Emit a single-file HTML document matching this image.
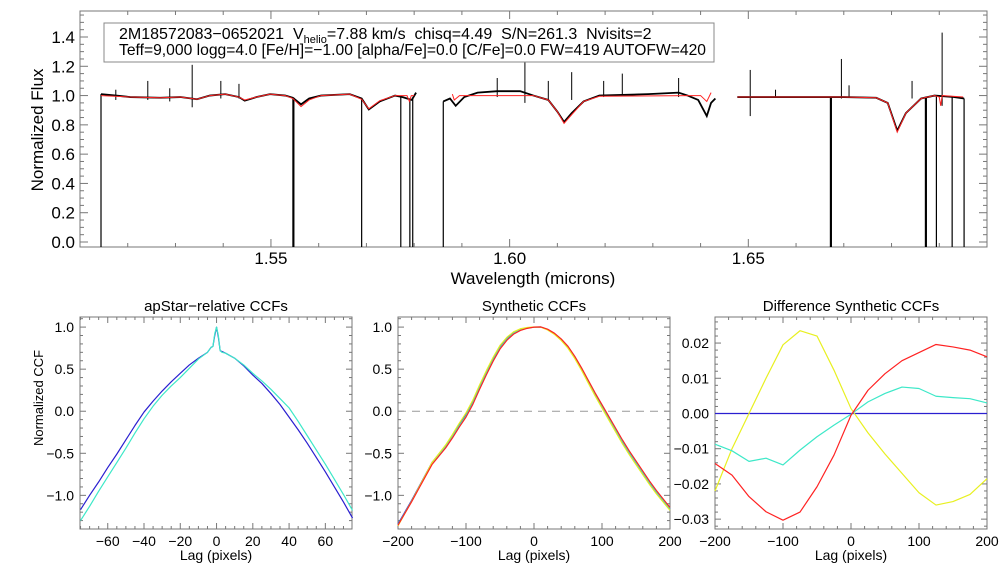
<!DOCTYPE html>
<html><head><meta charset="utf-8"><style>
html,body{margin:0;padding:0;background:#fff;}
svg{display:block;font-family:"Liberation Sans",sans-serif;}
</style></head><body>
<svg id="fig" width="1008" height="576" viewBox="0 0 1008 576" xmlns="http://www.w3.org/2000/svg">
<rect width="1008" height="576" fill="#fff"/>
</svg>
<script>
// ---------- Top panel data ----------
const specBlack1 = [[1.5144,1.01],[1.5175,1.0],[1.5205,0.99],[1.5268,0.985],[1.5310,0.99],[1.5345,0.975],[1.5372,1.0],[1.5404,1.01],[1.5433,0.99],[1.5445,0.965],[1.5470,0.99],[1.5498,1.01],[1.5530,1.0],[1.5546,0.985],[1.5563,0.94],[1.5580,0.98],[1.5605,1.0],[1.5665,1.01],[1.5690,0.98],[1.5705,0.905],[1.5728,0.96],[1.5760,1.0],[1.5775,0.99],[1.5795,0.97],[1.5804,1.02]];
const specRed1 = [[1.5144,1.0],[1.5205,0.99],[1.5268,0.985],[1.5310,0.99],[1.5345,0.975],[1.5372,1.0],[1.5404,1.01],[1.5433,0.99],[1.5445,0.97],[1.5470,0.99],[1.5498,1.01],[1.5530,1.0],[1.5546,0.98],[1.5563,0.925],[1.5580,0.97],[1.5605,1.0],[1.5665,1.01],[1.5690,0.975],[1.5705,0.91],[1.5728,0.965],[1.5760,1.0],[1.5785,1.0],[1.5790,0.96],[1.5794,1.0],[1.5800,1.0]];
const specBlack2 = [[1.5861,0.96],[1.5875,0.98],[1.5887,0.93],[1.5905,0.99],[1.5933,1.02],[1.5974,1.03],[1.6022,1.03],[1.6050,1.0],[1.6081,0.97],[1.6100,0.89],[1.6114,0.82],[1.6130,0.88],[1.6155,0.96],[1.6188,1.0],[1.6290,1.01],[1.6354,1.02],[1.6373,1.0],[1.6395,0.97],[1.6413,0.86],[1.6422,0.95],[1.6431,0.98]];
const specRed2 = [[1.5880,1.01],[1.5884,0.97],[1.5895,1.0],[1.6050,1.0],[1.6081,0.97],[1.6100,0.89],[1.6114,0.81],[1.6130,0.87],[1.6155,0.96],[1.6188,0.995],[1.6380,1.0],[1.6400,1.0],[1.6413,0.96],[1.6422,1.02]];
const specBlack3 = [[1.6477,0.99],[1.6600,0.99],[1.6700,0.99],[1.6768,0.985],[1.6792,0.95],[1.6812,0.76],[1.6830,0.88],[1.6862,0.98],[1.6890,1.0],[1.6930,0.99],[1.6952,0.98]];
const specRed3 = [[1.6477,0.99],[1.6600,0.99],[1.6700,0.99],[1.6768,0.985],[1.6792,0.95],[1.6812,0.75],[1.6830,0.88],[1.6862,0.98],[1.6890,1.0],[1.6900,0.99],[1.6903,0.93],[1.6906,1.0],[1.6950,0.99]];
const spikeWave = [1.5175,1.5242,1.5288,1.5335,1.5395,1.5433,1.5974,1.6032,1.6081,1.6130,1.6197,1.6236,1.6354,1.6504,1.6557,1.6695,1.6711,1.6843,1.6906];
const spikeTop  = [1.04,1.10,1.05,1.21,1.10,1.08,1.12,1.25,1.10,1.16,1.10,1.15,1.12,1.175,1.04,1.25,1.07,1.10,1.43];
const spikeBot  = [0.97,0.97,0.96,0.92,0.98,0.98,0.99,0.95,0.97,0.97,0.99,1.0,0.99,0.86,0.99,0.98,0.99,0.98,0.93];
const dropWave = [1.5144,1.5546,1.5548,1.5690,1.5772,1.5791,1.5797,1.5861,1.6672,1.6674,1.6871,1.6873,1.6894,1.6927,1.6952];
const dropFrom = [1.01,0.985,0.985,0.98,0.99,0.97,0.98,0.96,0.99,0.99,0.99,0.99,1.0,0.99,0.98];
const topYTicks = ["0.0","0.2","0.4","0.6","0.8","1.0","1.2","1.4"];
const topXTicks = ["1.55","1.60","1.65"];

// ---------- CCF panels data ----------
const apLags = [-75,-70,-65,-60,-55,-50,-45,-40,-35,-30,-25,-20,-15,-10,-5,-3,-2,-1,0,1,2,3,5,10,15,20,25,30,35,40,45,50,55,60,65,70,75];
const apBlue = [-1.17,-1.00,-0.84,-0.67,-0.51,-0.34,-0.17,-0.01,0.12,0.24,0.35,0.45,0.55,0.63,0.70,0.76,0.77,0.90,1.0,0.88,0.72,0.71,0.69,0.63,0.54,0.43,0.33,0.21,0.08,-0.07,-0.22,-0.38,-0.55,-0.72,-0.90,-1.08,-1.27];
const apCyan = [-1.30,-1.13,-0.95,-0.78,-0.61,-0.44,-0.26,-0.09,0.06,0.19,0.30,0.40,0.51,0.62,0.70,0.76,0.77,0.92,1.0,0.90,0.72,0.70,0.69,0.63,0.55,0.45,0.36,0.26,0.15,0.04,-0.12,-0.29,-0.46,-0.63,-0.81,-0.99,-1.18];
const synLags = [-200,-190,-180,-170,-160,-150,-140,-130,-120,-110,-100,-90,-80,-70,-60,-50,-40,-30,-20,-10,0,10,20,30,40,50,60,70,80,90,100,110,120,130,140,150,160,170,180,190,200];
const synBase = [-1.34,-1.20,-1.06,-0.91,-0.76,-0.61,-0.51,-0.41,-0.29,-0.16,-0.04,0.11,0.29,0.46,0.62,0.76,0.86,0.93,0.97,0.99,1.0,1.0,0.97,0.92,0.85,0.76,0.64,0.50,0.35,0.20,0.06,-0.08,-0.22,-0.36,-0.49,-0.61,-0.73,-0.85,-0.96,-1.06,-1.16];
const diffLags = [-200,-175,-150,-125,-100,-75,-50,-25,0,25,50,75,100,125,150,175,200];
const diffYellow = [-0.022,-0.010,0.0,0.010,0.0195,0.0235,0.022,0.0123,0.0014,-0.0055,-0.0115,-0.017,-0.0225,-0.026,-0.025,-0.023,-0.0185];
const diffRed = [-0.0142,-0.0175,-0.0236,-0.0279,-0.0303,-0.028,-0.0208,-0.0118,-0.0005,0.0066,0.0113,0.015,0.0173,0.0196,0.0189,0.018,0.0161];
const diffCyan = [-0.0087,-0.0106,-0.0136,-0.0127,-0.0146,-0.0104,-0.0066,-0.0033,-0.0002,0.0033,0.0057,0.0075,0.0071,0.0049,0.0045,0.0042,0.003];
const diffBlue = [0,0,0,0,0,0,0,0,0,0,0,0,0,0,0,0,0];
const apXTicks = [-60,-40,-20,0,20,40,60];
const ccfYTicks = [-1.0,-0.5,0.0,0.5,1.0];
const synXTicks = [-200,-100,0,100,200];
const diffYTicks = [-0.03,-0.02,-0.01,0.0,0.01,0.02];

const NS = "http://www.w3.org/2000/svg";
const svg = document.getElementById('fig');
function el(tag, attrs, parent){
  const e = document.createElementNS(NS, tag);
  for (const k in attrs) e.setAttribute(k, attrs[k]);
  (parent||svg).appendChild(e);
  return e;
}
function lin(d0,d1,r0,r1){ return v => r0 + (v-d0)*(r1-r0)/(d1-d0); }
function fmtMinus(s){ return String(s).replace('-', '\u2212'); }
function interp(xa, ya, x){
  for (let i=0;i<xa.length-1;i++){
    if (x>=xa[i] && x<=xa[i+1]) return ya[i]+(ya[i+1]-ya[i])*(x-xa[i])/(xa[i+1]-xa[i]);
  }
  return x<xa[0]?ya[0]:ya[ya.length-1];
}

function axesFrame(g, L, T, R, B, xs, ys, xmin, xmax, xmaj, xmin_step, ymin, ymax, ymaj, ymin_step, majLen, minLen){
  const frame = el('rect',{x:L,y:T,width:R-L,height:B-T,fill:'none',stroke:'#777','stroke-width':1},g);
  
  
  const eps=1e-9;
  for (let v=Math.ceil((xmin-eps)/xmin_step)*xmin_step; v<=xmax+eps; v+=xmin_step){
    const isMaj = Math.abs(v/xmaj - Math.round(v/xmaj))<1e-6;
    const len = isMaj?majLen:minLen, x=xs(v);
    const t1 = el('line',{x1:x,y1:B,x2:x,y2:B-len,stroke:'#777','stroke-width':1},g);
    
    
    const t2 = el('line',{x1:x,y1:T,x2:x,y2:T+len,stroke:'#777','stroke-width':1},g);
    
    
  }
  for (let v=Math.ceil((ymin-eps)/ymin_step)*ymin_step; v<=ymax+eps; v+=ymin_step){
    const isMaj = Math.abs(v/ymaj - Math.round(v/ymaj))<1e-6;
    const len = isMaj?majLen:minLen, y=ys(v);
    const t1 = el('line',{x1:L,y1:y,x2:L+len,y2:y,stroke:'#777','stroke-width':1},g);
    
    
    const t2 = el('line',{x1:R,y1:y,x2:R-len,y2:y,stroke:'#777','stroke-width':1},g);
    
    
  }
}
function pathFrom(xsArr, ysArr, xs, ys){
  return xsArr.map((v,i)=>(i?'L':'M')+xs(v).toFixed(2)+','+ys(ysArr[i]).toFixed(2)).join('');
}
function text(g, x, y, str, size, anchor, name, extra){
  const t = el('text',Object.assign({x:x,y:y,'font-size':size,'text-anchor':anchor||'middle',fill:'#000'},extra||{}),g);
  t.textContent = str;
  
  
  return t;
}

// ---------- Top panel ----------
(function(){
  const L=80,T=11,R=987,B=247;
  const xs = lin(1.51,1.70,L,R);
  const ys = lin(0,1.4,242,37);
  const g = el('g',{});
  
  
  axesFrame(g,L,T,R,B,xs,ys,1.51,1.70,0.05,0.01,-0.03,1.58,0.2,0.05,8,4);
  topYTicks.forEach(s=>text(g,75,ys(parseFloat(s))+6,s,17,'end','y-tick-label'));
  topXTicks.forEach(s=>text(g,xs(parseFloat(s)),264,s,17,'middle','x-tick-label'));
  text(g,533,284,'Wavelength (microns)',17,'middle','x-axis-title');
  text(g,0,0,'Normalized Flux',17,'middle','y-axis-title',{transform:'translate(43,130) rotate(-90)'});
  dropWave.forEach((w,i)=>{
    const ln = el('line',{x1:xs(w),y1:ys(dropFrom[i]),x2:xs(w),y2:B,stroke:'#000','stroke-width':1.2},g);
    
    
  });
  [specBlack1,specBlack2,specBlack3].forEach(arr=>{
    const p = el('path',{d:pathFrom(arr.map(a=>a[0]),arr.map(a=>a[1]),xs,ys),fill:'none',stroke:'#000','stroke-width':1.8},g);
    
    
  });
  spikeWave.forEach((w,i)=>{
    const ln = el('line',{x1:xs(w),y1:ys(spikeTop[i]),x2:xs(w),y2:ys(spikeBot[i]),stroke:'#000','stroke-width':1},g);
    
    
  });
  [specRed1,specRed2,specRed3].forEach(arr=>{
    const p = el('path',{d:pathFrom(arr.map(a=>a[0]),arr.map(a=>a[1]),xs,ys),fill:'none',stroke:'#f22','stroke-width':1},g);
    
    
  });
  const box = el('rect',{x:104,y:23,width:610,height:39,fill:'#fff',stroke:'#888','stroke-width':1},g);
  
  
  const t1 = el('text',{x:119,y:39,'font-size':16,fill:'#000'},g);
  
  
  t1.style.whiteSpace='pre';
  t1.innerHTML = '2M18572083\u22120652021  V<tspan font-size="11" dy="4">helio</tspan><tspan dy="-4">=7.88 km/s  chisq=4.49  S/N=261.3  Nvisits=2</tspan>';
  text(g,119,55,'Teff=9,000 logg=4.0 [Fe/H]=\u22121.00 [alpha/Fe]=0.0 [C/Fe]=0.0 FW=419 AUTOFW=420',16,'start','legend-line-2',{textLength:587,lengthAdjust:'spacingAndGlyphs'});
})();

// ---------- Bottom panels ----------
function ccfPanel(name, L, title, xmin, xmax, xmaj, xminStep, ymin, ymax, ymaj, yminStep, xticks, yticks, yfmt){
  const T=317,B=529,R=L+272;
  const xs = lin(xmin,xmax,L,R);
  const ys = lin(ymin,ymax,B,T);
  const g = el('g',{});
  
  
  axesFrame(g,L,T,R,B,xs,ys,xmin,xmax,xmaj,xminStep,ymin,ymax,ymaj,yminStep,6,3);
  xticks.forEach(v=>text(g,xs(v),546,fmtMinus(v),14,'middle','x-tick-label'));
  yticks.forEach(v=>text(g,L-6,ys(v)+5,fmtMinus(yfmt(v)),14,'end','y-tick-label'));
  text(g,(L+R)/2,311,title,15,'middle','panel-title');
  text(g,(L+R)/2,560,'Lag (pixels)',14,'middle','x-axis-title');
  return {g,xs,ys};
}
function series(p, xArr, yArr, color, name){
  const path = el('path',{d:pathFrom(xArr,yArr,p.xs,p.ys),fill:'none',stroke:color,'stroke-width':1.2,'stroke-linejoin':'round'},p.g);
  
  
}
const p1 = ccfPanel('apstar-ccf-panel',80,'apStar\u2212relative CCFs',-75.3,74.7,20,5,-1.4,1.12,0.5,0.1,apXTicks,ccfYTicks,v=>v.toFixed(1));
text(p1.g,0,0,'Normalized CCF',13,'middle','y-axis-title',{transform:'translate(43,398) rotate(-90)'});
series(p1,apLags,apBlue,'#2a1fd0','ccf-visit-1');
series(p1,apLags,apCyan,'#3de8c8','ccf-visit-2');

const p2 = ccfPanel('synthetic-ccf-panel',398,'Synthetic CCFs',-200,200,100,20,-1.4,1.12,0.5,0.1,synXTicks,ccfYTicks,v=>v.toFixed(1));
const dash = el('line',{x1:p2.xs(-200),y1:p2.ys(0),x2:p2.xs(200),y2:p2.ys(0),stroke:'#999','stroke-width':1,'stroke-dasharray':'8,6'},p2.g);


[[diffBlue,'#2a1fd0','synthetic-ccf-blue'],[diffCyan,'#3de8c8','synthetic-ccf-cyan'],[diffYellow,'#e8f020','synthetic-ccf-yellow'],[diffRed,'#f22','synthetic-ccf-red']].forEach(s=>{
  series(p2,synLags,synBase.map((b,i)=>b+interp(diffLags,s[0],synLags[i])),s[1],s[2]);
});

const p3 = ccfPanel('difference-ccf-panel',715,'Difference Synthetic CCFs',-200,200,100,20,-0.0328,0.0274,0.01,0.002,synXTicks,diffYTicks,v=>v.toFixed(2));
const zl = el('line',{x1:p3.xs(-200),y1:p3.ys(0),x2:p3.xs(200),y2:p3.ys(0),stroke:'#000','stroke-width':1},p3.g);


series(p3,diffLags,diffBlue,'#2a1fd0','diff-ccf-blue');
series(p3,diffLags,diffYellow,'#e8f020','diff-ccf-yellow');
series(p3,diffLags,diffCyan,'#3de8c8','diff-ccf-cyan');
series(p3,diffLags,diffRed,'#f22','diff-ccf-red');
</script>
</body></html>
